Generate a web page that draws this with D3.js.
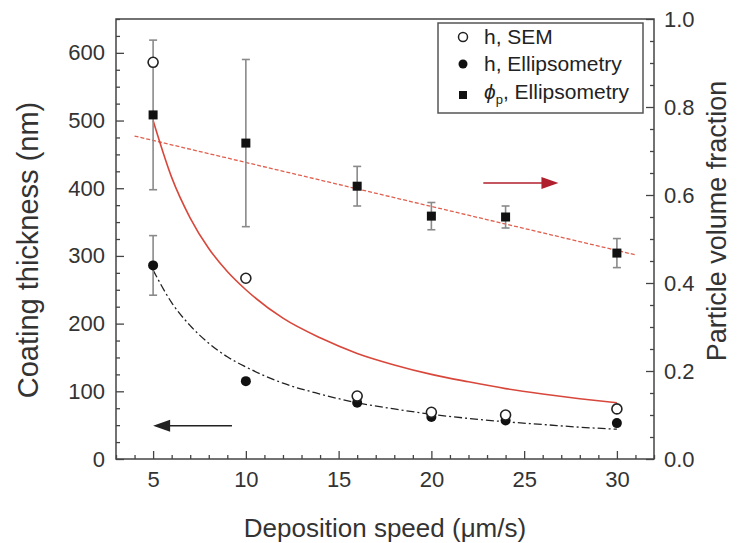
<!DOCTYPE html>
<html>
<head>
<meta charset="utf-8">
<script src="https://cdn.jsdelivr.net/npm/d3@7"></script>
<style>
  body { margin: 0; background: #fff; }
  svg { font-family: "Liberation Sans", Arial, sans-serif; }
  .tick text { fill: #333; }
</style>
</head>
<body>
<div id="chart"></div>
<script>
const width = 748;
const height = 543;
const margin = { top: 19, right: 94, bottom: 84, left: 116 };

// measured points
const speeds = [5, 10, 16, 20, 24, 30];
const hSEM = [586, 267, 93, 69, 65, 74];
const hEllips = [286, 115, 83, 62, 57, 53];
const hEllipsErr = [44, 0, 0, 0, 0, 0];
const phiP = [0.782, 0.718, 0.62, 0.552, 0.55, 0.468];
const phiErr = [0.17, 0.19, 0.045, 0.031, 0.025, 0.033];

// fitted curves
const fitX = [5, 6, 7, 8, 9, 10, 12, 14, 16, 18, 20, 22, 24, 26, 28, 30];
const fitSEM = [500, 416, 356, 311, 277, 250, 208, 179, 156, 139, 125, 114, 104, 96, 89, 83];
const fitEllips = [279, 231, 197, 171, 151, 136, 112, 96, 83, 74, 66, 60, 55, 51, 47, 44];
const phiFitX = [4, 31];
const phiFit = [0.734, 0.464];

const xTicks = [5, 10, 15, 20, 25, 30];
const yLeftTicks = [0, 100, 200, 300, 400, 500, 600];
const yRightTicks = [0, 0.2, 0.4, 0.6, 0.8, 1.0];

const svg = d3
  .select("#chart")
  .append("svg")
  .attr("width", width)
  .attr("height", height);

const x = d3.scaleLinear().domain([3, 32]).range([margin.left, width - margin.right]);
const yL = d3.scaleLinear().domain([0, 650]).range([height - margin.bottom, margin.top]);
const yR = d3.scaleLinear().domain([0, 1]).range([height - margin.bottom, margin.top]);

const x0 = margin.left, x1 = width - margin.right;
const y0 = height - margin.bottom, y1 = margin.top;

// minor ticks
const minorX = d3.range(3, 33).filter((v) => v % 5 !== 0);
const minorL = d3.range(0, 651, 25).filter((v) => v % 100 !== 0);
const minorR = d3.range(0, 21).map((v) => v / 20).filter((v, i) => i % 4 !== 0);

function styleAxis(g) {
  g.select(".domain").remove();
  g.selectAll(".tick line").attr("stroke", "#444").attr("stroke-width", 1.3);
}

svg.append("g").attr("transform", `translate(0,${y0})`)
  .call(d3.axisBottom(x).tickValues(minorX).tickSize(-4).tickFormat(""))
  .call(styleAxis);
svg.append("g").attr("transform", `translate(0,${y0})`)
  .call(d3.axisBottom(x).tickValues(xTicks).tickSize(-8).tickPadding(12))
  .call(styleAxis)
  .selectAll("text").attr("font-size", 22);

svg.append("g").attr("transform", `translate(${x0},0)`)
  .call(d3.axisLeft(yL).tickValues(minorL).tickSize(-4).tickFormat(""))
  .call(styleAxis);
svg.append("g").attr("transform", `translate(${x0},0)`)
  .call(d3.axisLeft(yL).tickValues(yLeftTicks).tickSize(-8).tickPadding(11))
  .call(styleAxis)
  .selectAll("text").attr("font-size", 22);

svg.append("g").attr("transform", `translate(${x1},0)`)
  .call(d3.axisRight(yR).tickValues(minorR).tickSize(-4).tickFormat(""))
  .call(styleAxis);
svg.append("g").attr("transform", `translate(${x1},0)`)
  .call(d3.axisRight(yR).tickValues(yRightTicks).tickSize(-8).tickPadding(10).tickFormat(d3.format(".1f")))
  .call(styleAxis)
  .selectAll("text").attr("font-size", 22);

// frame
svg.append("rect")
  .attr("x", x0).attr("y", y1)
  .attr("width", x1 - x0).attr("height", y0 - y1)
  .attr("fill", "none").attr("stroke", "#444").attr("stroke-width", 1.5);

// axis titles
svg.append("text")
  .attr("x", (x0 + x1) / 2 - 0).attr("y", 537)
  .attr("text-anchor", "middle").attr("font-size", 26).attr("fill", "#333")
  .text("Deposition speed (\u03bcm/s)");
svg.append("text")
  .attr("transform", "translate(38,250) rotate(-90)")
  .attr("text-anchor", "middle").attr("font-size", 29).attr("fill", "#333")
  .text("Coating thickness (nm)");
svg.append("text")
  .attr("transform", "translate(726,221) rotate(-90)")
  .attr("text-anchor", "middle").attr("font-size", 27).attr("fill", "#333")
  .text("Particle volume fraction");

// fit lines
const lineL = d3.line().x((d) => x(d[0])).y((d) => yL(d[1])).curve(d3.curveMonotoneX);
const lineR = d3.line().x((d) => x(d[0])).y((d) => yR(d[1]));

svg.append("path")
  .datum(d3.zip(phiFitX, phiFit))
  .attr("d", lineR)
  .attr("fill", "none").attr("stroke", "#e0604f").attr("stroke-width", 1.3)
  .attr("stroke-dasharray", "4,2");

svg.append("path")
  .datum(d3.zip(fitX, fitSEM))
  .attr("d", lineL)
  .attr("fill", "none").attr("stroke", "#d8473b").attr("stroke-width", 1.6);

svg.append("path")
  .datum(d3.zip(fitX, fitEllips))
  .attr("d", lineL)
  .attr("fill", "none").attr("stroke", "#222").attr("stroke-width", 1.3)
  .attr("stroke-dasharray", "8,3,2,3");

// error bars
function errorBars(vals, errs, scale) {
  const g = svg.append("g").attr("stroke", "#8a8a8a").attr("stroke-width", 1.6);
  speeds.forEach((s, i) => {
    if (!errs[i]) return;
    const cx = x(s);
    const ya = scale(vals[i] + errs[i]);
    const yb = scale(vals[i] - errs[i]);
    g.append("line").attr("x1", cx).attr("x2", cx).attr("y1", ya).attr("y2", yb);
    g.append("line").attr("x1", cx - 4).attr("x2", cx + 4).attr("y1", ya).attr("y2", ya);
    g.append("line").attr("x1", cx - 4).attr("x2", cx + 4).attr("y1", yb).attr("y2", yb);
  });
}
errorBars(phiP, phiErr, yR);
errorBars(hEllips, hEllipsErr, yL);

// markers
svg.append("g").selectAll("rect")
  .data(d3.zip(speeds, phiP))
  .enter().append("rect")
  .attr("x", (d) => x(d[0]) - 4.5).attr("y", (d) => yR(d[1]) - 4.5)
  .attr("width", 9).attr("height", 9).attr("fill", "#111");

svg.append("g").selectAll("circle")
  .data(d3.zip(speeds, hEllips))
  .enter().append("circle")
  .attr("cx", (d) => x(d[0])).attr("cy", (d) => yL(d[1]))
  .attr("r", 5).attr("fill", "#111");

svg.append("g").selectAll("circle")
  .data(d3.zip(speeds, hSEM))
  .enter().append("circle")
  .attr("cx", (d) => x(d[0])).attr("cy", (d) => yL(d[1]))
  .attr("r", 5).attr("fill", "#fff").attr("stroke", "#222").attr("stroke-width", 1.6);

// arrows
function arrow(xa, xb, yv, scale, color) {
  const xt = x(xb), xs = x(xa), yy = scale(yv);
  const dir = xt > xs ? 1 : -1;
  svg.append("line")
    .attr("x1", xs).attr("x2", xt - dir * 14).attr("y1", yy).attr("y2", yy)
    .attr("stroke", color).attr("stroke-width", 1.5);
  svg.append("path")
    .attr("d", `M${xt},${yy} L${xt - dir * 17},${yy - 6} L${xt - dir * 17},${yy + 6} Z`)
    .attr("fill", color);
}
arrow(9.25, 5, 49, yL, "#222");
arrow(22.8, 26.85, 0.627, yR, "#b01f2e");

// legend
const legend = svg.append("g");
legend.append("rect")
  .attr("x", 438).attr("y", 23).attr("width", 205).attr("height", 90)
  .attr("fill", "#fff").attr("stroke", "#555").attr("stroke-width", 1.5);
const legY = [37, 64, 95];
legend.append("circle").attr("cx", 463).attr("cy", legY[0]).attr("r", 4.5)
  .attr("fill", "#fff").attr("stroke", "#222").attr("stroke-width", 1.5);
legend.append("circle").attr("cx", 463).attr("cy", legY[1]).attr("r", 4.5).attr("fill", "#111");
legend.append("rect").attr("x", 459).attr("y", legY[2] - 4).attr("width", 8).attr("height", 8).attr("fill", "#111");
const legText = legend.append("g").attr("font-size", 21).attr("fill", "#222");
legText.append("text").attr("x", 484).attr("y", legY[0] + 7).text("h, SEM");
legText.append("text").attr("x", 484).attr("y", legY[1] + 7).text("h, Ellipsometry");
const phiText = legText.append("text").attr("x", 484).attr("y", legY[2] + 4);
phiText.append("tspan").attr("font-style", "italic").text("\u03d5");
phiText.append("tspan").attr("font-size", 13).attr("dy", 5).text("p");
phiText.append("tspan").attr("dy", -5).text(", Ellipsometry");
</script>
</body>
</html>
